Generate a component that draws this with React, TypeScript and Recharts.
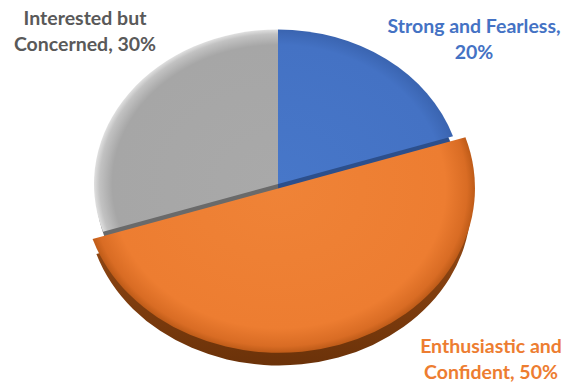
import React from 'react';
import { PieChart, Pie, Cell } from 'recharts';

// ---- data ----
const categories = ['Strong and Fearless', 'Enthusiastic and Confident', 'Interested but Concerned'];
const shares = [20, 50, 30];
const labelFirstLines = ['Strong and Fearless,', 'Enthusiastic and', 'Interested but'];
const labelSecondPrefixes = ['', 'Confident, ', 'Concerned, '];

// ---- styles ----
const TOP_GRAD = ['gBlue', 'gOrange', 'gGray'];
const SIDE = ['#2C4F8C', 'url(#gOrangeSide)', '#6A6A6A'];
const TEXT_COLORS = ['#4472C4', '#ED7D31', '#595959'];
const EXPLODED = 1; // index of exploded slice

const W = 574;
const H = 383;
const CX = 278;
const CY = 184;
const R = 184;
const R_EXPLODED = 196;
const SQUASH = 0.84;
const EXPLODE_DX = 1;
const EXPLODE_DY = 5;
const DEPTH = 8;
const DEPTH_EXPLODED = 19;
const SIDE_SHRINK = 4;
// label anchors relative to pie centre (dx = text centre, dy = first baseline)
const LABEL_OFFSETS = [
  { dx: 196, dy: -151 },
  { dx: 213, dy: 169 },
  { dx: -193, dy: -159 },
];
const LINE_GAP = 26;
const FONT = 'Lato, "Open Sans", sans-serif';

const data = categories.map((name, i) => ({ name, value: shares[i] }));

const css = `
.squash .recharts-sector { transform: translate(0px, ${CY}px) scaleY(${SQUASH}) translate(0px, -${CY}px); }
`;

const renderLabel = (which: 'main' | 'exploded') => (props: any) => {
  const i = props.index;
  const isExp = i === EXPLODED;
  if ((which === 'main' && isExp) || (which === 'exploded' && !isExp)) return null;
  const off = LABEL_OFFSETS[i];
  const x = CX + off.dx;
  const y = CY + off.dy;
  return (
    <text
      key={`lbl-${i}`}
      x={x}
      y={y}
      textAnchor="middle"
      fill={TEXT_COLORS[i]}
      fontFamily={FONT}
      fontWeight={700}
      fontSize={19.5}
    >
      <tspan x={x} y={y}>{labelFirstLines[i]}</tspan>
      <tspan x={x} y={y + LINE_GAP}>{`${labelSecondPrefixes[i]}${shares[i]}%`}</tspan>
    </text>
  );
};

export default function App() {
  return (
    <div style={{ position: 'absolute', left: 0, top: 0, width: W, height: H, background: '#fff' }}>
      <style>{css}</style>
      <PieChart width={W} height={H} margin={{ top: 0, right: 0, bottom: 0, left: 0 }}>
        <defs>
          <radialGradient id="gBlue" gradientUnits="userSpaceOnUse" cx={CX} cy={CY} r={R}>
            <stop offset="0" stopColor="#4777C9" />
            <stop offset="0.9" stopColor="#4472C4" />
            <stop offset="1" stopColor="#3A64B0" />
          </radialGradient>
          <radialGradient id="gGray" gradientUnits="userSpaceOnUse" cx={CX} cy={CY} r={R}>
            <stop offset="0" stopColor="#A9A9A9" />
            <stop offset="0.9" stopColor="#A6A6A6" />
            <stop offset="0.97" stopColor="#C2C2C2" />
            <stop offset="1" stopColor="#E0E0E0" />
          </radialGradient>
          <radialGradient
            id="gOrange"
            gradientUnits="userSpaceOnUse"
            cx={CX + EXPLODE_DX}
            cy={CY + EXPLODE_DY}
            r={R_EXPLODED}
          >
            <stop offset="0" stopColor="#EF8337" />
            <stop offset="0.85" stopColor="#ED7D31" />
            <stop offset="0.96" stopColor="#D96C24" />
            <stop offset="1" stopColor="#BE5B18" />
          </radialGradient>
          <linearGradient id="gOrangeSide" x1="0" y1="0" x2="0" y2="1">
            <stop offset="0" stopColor="#A9551B" />
            <stop offset="1" stopColor="#6B3209" />
          </linearGradient>
        </defs>

        {/* side (depth) of blue and gray */}
        <Pie
          className="squash"
          data={data}
          dataKey="value"
          cx={CX}
          cy={CY + DEPTH}
          outerRadius={R - 2}
          startAngle={90}
          endAngle={-270}
          stroke="none"
          isAnimationActive={false}
        >
          {data.map((d, i) => (
            <Cell key={`s-${i}`} fill={i === EXPLODED ? 'none' : SIDE[i]} />
          ))}
        </Pie>
        {/* top of blue and gray */}
        <Pie
          className="squash"
          data={data}
          dataKey="value"
          cx={CX}
          cy={CY}
          outerRadius={R}
          startAngle={90}
          endAngle={-270}
          stroke="none"
          labelLine={false}
          label={renderLabel('main')}
          isAnimationActive={false}
        >
          {data.map((d, i) => (
            <Cell key={`t-${i}`} fill={i === EXPLODED ? 'none' : `url(#${TOP_GRAD[i]})`} />
          ))}
        </Pie>
        {/* side of exploded orange */}
        <Pie
          className="squash"
          data={data}
          dataKey="value"
          cx={CX + EXPLODE_DX}
          cy={CY + EXPLODE_DY + DEPTH_EXPLODED}
          outerRadius={R_EXPLODED - SIDE_SHRINK}
          startAngle={90}
          endAngle={-270}
          stroke="none"
          isAnimationActive={false}
        >
          {data.map((d, i) => (
            <Cell key={`es-${i}`} fill={i === EXPLODED ? SIDE[i] : 'none'} />
          ))}
        </Pie>
        {/* top of exploded orange */}
        <Pie
          className="squash"
          data={data}
          dataKey="value"
          cx={CX + EXPLODE_DX}
          cy={CY + EXPLODE_DY}
          outerRadius={R_EXPLODED}
          startAngle={90}
          endAngle={-270}
          stroke="none"
          labelLine={false}
          label={renderLabel('exploded')}
          isAnimationActive={false}
        >
          {data.map((d, i) => (
            <Cell key={`et-${i}`} fill={i === EXPLODED ? `url(#${TOP_GRAD[i]})` : 'none'} />
          ))}
        </Pie>
      </PieChart>
    </div>
  );
}
